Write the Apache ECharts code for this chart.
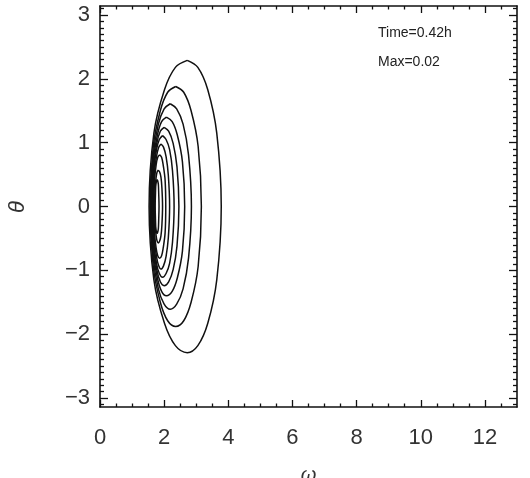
<!DOCTYPE html>
<html>
<head>
<meta charset="utf-8">
<script src="https://cdn.jsdelivr.net/npm/echarts@6/dist/echarts.min.js"></script>
<style>
html,body{margin:0;padding:0;background:#fff;}
#chart{width:530px;height:478px;}
</style>
</head>
<body>
<div id="chart"></div>
<script>
// Axis ticks / labels
const xTickLabels = [0, 2, 4, 6, 8, 10, 12];
const yTickLabels = [-3, -2, -1, 0, 1, 2, 3];
const xRange = [0, 13];
const yRange = [-3.14159, 3.14159];
const annotationLines = ['Time=0.42h', 'Max=0.02'];
const xTitle = 'ω';
const yTitle = 'θ';

// Contour lines, outermost first
const contour1 = [[2.72,2.29],[3.05,2.18],[3.36,1.83],[3.64,1.15],[3.78,0],[3.64,-1.15],[3.36,-1.83],[3.05,-2.18],[2.72,-2.29],[2.35,-2.18],[2.01,-1.83],[1.68,-1.15],[1.53,0],[1.68,1.15],[2.01,1.83],[2.35,2.18],[2.72,2.29]];
const contour2 = [[2.36,1.88],[2.61,1.79],[2.84,1.50],[3.06,0.94],[3.16,0],[3.06,-0.94],[2.84,-1.50],[2.61,-1.79],[2.36,-1.88],[2.11,-1.79],[1.88,-1.50],[1.66,-0.94],[1.56,0],[1.66,0.94],[1.88,1.50],[2.11,1.79],[2.36,1.88]];
const contour3 = [[2.19,1.61],[2.39,1.53],[2.59,1.29],[2.76,0.81],[2.85,0],[2.76,-0.81],[2.59,-1.29],[2.39,-1.53],[2.19,-1.61],[2.00,-1.53],[1.82,-1.29],[1.66,-0.81],[1.58,0],[1.66,0.81],[1.82,1.29],[2.00,1.53],[2.19,1.61]];
const contour4 = [[2.07,1.40],[2.25,1.33],[2.41,1.12],[2.57,0.70],[2.64,0],[2.57,-0.70],[2.41,-1.12],[2.25,-1.33],[2.07,-1.40],[1.92,-1.33],[1.79,-1.12],[1.66,-0.70],[1.60,0],[1.66,0.70],[1.79,1.12],[1.92,1.33],[2.07,1.40]];
const contour5 = [[2.00,1.24],[2.14,1.18],[2.28,0.99],[2.40,0.62],[2.46,0],[2.40,-0.62],[2.28,-0.99],[2.14,-1.18],[2.00,-1.24],[1.88,-1.18],[1.77,-0.99],[1.67,-0.62],[1.62,0],[1.67,0.62],[1.77,0.99],[1.88,1.18],[2.00,1.24]];
const contour6 = [[1.95,1.11],[2.06,1.05],[2.17,0.89],[2.26,0.56],[2.31,0],[2.26,-0.56],[2.17,-0.89],[2.06,-1.05],[1.95,-1.11],[1.85,-1.05],[1.76,-0.89],[1.68,-0.56],[1.64,0],[1.68,0.56],[1.76,0.89],[1.85,1.05],[1.95,1.11]];
const contour7 = [[1.90,0.98],[1.98,0.93],[2.06,0.78],[2.13,0.49],[2.17,0],[2.13,-0.49],[2.06,-0.78],[1.98,-0.93],[1.90,-0.98],[1.83,-0.93],[1.76,-0.78],[1.69,-0.49],[1.66,0],[1.69,0.49],[1.76,0.78],[1.83,0.93],[1.90,0.98]];
const contour8 = [[1.86,0.81],[1.92,0.77],[1.97,0.65],[2.03,0.41],[2.05,0],[2.03,-0.41],[1.97,-0.65],[1.92,-0.77],[1.86,-0.81],[1.80,-0.77],[1.75,-0.65],[1.70,-0.41],[1.68,0],[1.70,0.41],[1.75,0.65],[1.80,0.77],[1.86,0.81]];
const contour9 = [[1.82,0.57],[1.86,0.54],[1.90,0.46],[1.93,0.29],[1.95,0],[1.93,-0.29],[1.90,-0.46],[1.86,-0.54],[1.82,-0.57],[1.78,-0.54],[1.75,-0.46],[1.72,-0.29],[1.70,0],[1.72,0.29],[1.75,0.46],[1.78,0.54],[1.82,0.57]];
const contour10 = [[1.78,0.42],[1.80,0.40],[1.82,0.34],[1.83,0.21],[1.84,0],[1.83,-0.21],[1.82,-0.34],[1.80,-0.40],[1.78,-0.42],[1.76,-0.40],[1.74,-0.34],[1.73,-0.21],[1.72,0],[1.73,0.21],[1.74,0.34],[1.76,0.40],[1.78,0.42]];

const contours = [contour1, contour2, contour3, contour4, contour5, contour6, contour7, contour8, contour9, contour10];

// minor tick positions (axis decoration)
const xMinorTicks = [];
for (let i = 1; i < 26; i++) { if (i % 4 !== 0) xMinorTicks.push(i / 2); }
const yMinorTicks = [];
for (let i = -31; i <= 31; i++) { if (i % 10 !== 0) yMinorTicks.push(i / 10); }

const FONT = '"Liberation Sans", Arial, Helvetica, sans-serif';
const INK = '#111';

function xAx(pos, values, len, showLine, showLabel, extra) {
  return Object.assign({
    type: 'value', position: pos, min: xRange[0], max: xRange[1], gridIndex: 0,
    axisLine: { show: showLine, onZero: false, lineStyle: { color: INK, width: 1.6 } },
    axisTick: { show: true, inside: true, length: len, customValues: values, lineStyle: { color: INK, width: 1.3 } },
    axisLabel: showLabel ? { show: true, customValues: values, fontSize: 22, fontFamily: FONT, color: '#333', margin: 20 } : { show: false },
    splitLine: { show: false }, minorTick: { show: false }
  }, extra || {});
}
function yAx(pos, values, len, showLine, showLabel, extra) {
  return Object.assign({
    type: 'value', position: pos, min: yRange[0], max: yRange[1], gridIndex: 0,
    axisLine: { show: showLine, onZero: false, lineStyle: { color: INK, width: 1.6 } },
    axisTick: { show: true, inside: true, length: len, customValues: values, lineStyle: { color: INK, width: 1.3 } },
    axisLabel: showLabel ? { show: true, customValues: values, fontSize: 22, fontFamily: FONT, color: '#333', margin: 10,
      formatter: v => (v < 0 ? '\u2212' + Math.abs(v) : String(v)) } : { show: false },
    splitLine: { show: false }, minorTick: { show: false }
  }, extra || {});
}

const chart = echarts.init(document.getElementById('chart'), null, { renderer: 'canvas' });
chart.setOption({
  animation: false,
  backgroundColor: '#fff',
  grid: { left: 100, right: 13, top: 6, bottom: 71, containLabel: false, outerBoundsMode: 'none' },
  xAxis: [
    xAx('bottom', xTickLabels, 7, true, true, {
      name: xTitle, nameLocation: 'middle', nameGap: 58,
      nameTextStyle: { fontSize: 20, fontStyle: 'italic', fontFamily: FONT, color: '#333' }
    }),
    xAx('bottom', xMinorTicks, 3.5, false, false),
    xAx('top', xTickLabels, 7, true, false),
    xAx('top', xMinorTicks, 3.5, false, false)
  ],
  yAxis: [
    yAx('left', yTickLabels, 8, true, true),
    yAx('left', yMinorTicks, 4, false, false),
    yAx('right', yTickLabels, 8, true, false),
    yAx('right', yMinorTicks, 4, false, false)
  ],
  graphic: [
    { type: 'text', x: 18, y: 207, rotation: Math.PI / 2,
      style: { text: yTitle, font: 'italic 22px ' + FONT, fill: '#333', align: 'center', verticalAlign: 'middle' } },
    { type: 'text', left: 378, top: 26, style: { text: annotationLines[0], font: '14px ' + FONT, fill: '#222' } },
    { type: 'text', left: 378, top: 55, style: { text: annotationLines[1], font: '14px ' + FONT, fill: '#222' } }
  ],
  series: contours.map((c, i) => ({
    type: 'line', name: 'c' + (i + 1), data: c, xAxisIndex: 0, yAxisIndex: 0,
    smooth: 0.35, symbol: 'none', silent: true,
    lineStyle: { color: INK, width: 1.5 }
  }))
});
</script>
</body>
</html>
